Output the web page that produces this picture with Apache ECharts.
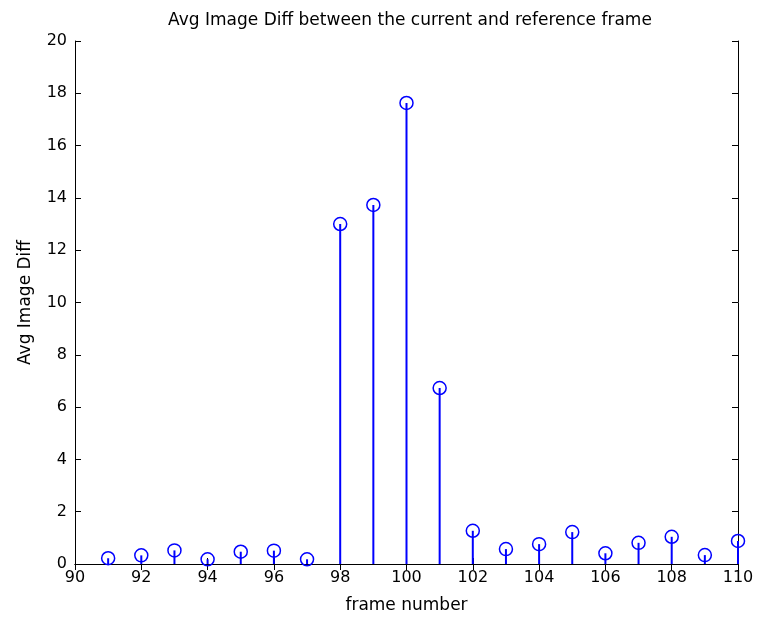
<!DOCTYPE html>
<html>
<head>
<meta charset="utf-8">
<script src="https://cdn.jsdelivr.net/npm/echarts@6/dist/echarts.min.js"></script>
<style>
  html, body { margin: 0; padding: 0; background: #fff; }
  #main { width: 759px; height: 621px; }
</style>
</head>
<body>
<div id="main"></div>
<script>
  // frame numbers and average image difference
  var frames = [91, 92, 93, 94, 95, 96, 97, 98, 99, 100, 101, 102, 103, 104, 105, 106, 107, 108, 109, 110];
  var avgDiff = [0.22, 0.33, 0.52, 0.18, 0.47, 0.51, 0.18, 13.0, 13.73, 17.63, 6.73, 1.27, 0.57, 0.76, 1.22, 0.41, 0.81, 1.04, 0.34, 0.88];

  var points = frames.map(function (f, i) { return [f, avgDiff[i]]; });

  var font = 'DejaVu Sans';
  var boxAxis = {
    axisLine: { show: true, lineStyle: { color: '#000', width: 1 } },
    axisTick: { show: true, inside: true, length: 6, lineStyle: { color: '#000' } },
    splitLine: { show: false }
  };

  var myChart = echarts.init(document.getElementById('main'));
  myChart.setOption({
    animation: false,
    backgroundColor: '#fff',
    title: {
      text: 'Avg Image Diff between the current and reference frame',
      left: 405,
      top: 7,
      textAlign: 'center',
      textStyle: { fontFamily: font, fontSize: 17, fontWeight: 'normal', color: '#000' }
    },
    grid: { left: 75, right: 21, top: 41, bottom: 57, outerBoundsMode: 'none' },
    xAxis: [
      Object.assign({
        type: 'value', min: 90, max: 110, interval: 2, position: 'bottom',
        name: 'frame number', nameLocation: 'middle', nameGap: 33,
        nameTextStyle: { fontFamily: font, fontSize: 17, color: '#000' },
        axisLabel: { fontFamily: font, fontSize: 16, color: '#000', margin: 6 }
      }, boxAxis),
      Object.assign({
        type: 'value', min: 90, max: 110, interval: 2, position: 'top',
        axisLabel: { show: false }
      }, boxAxis)
    ],
    yAxis: [
      Object.assign({
        type: 'value', min: 0, max: 20, interval: 2, position: 'left',
        name: 'Avg Image Diff', nameLocation: 'middle', nameGap: 41,
        nameTextStyle: { fontFamily: font, fontSize: 17, color: '#000' },
        axisLabel: { fontFamily: font, fontSize: 16, color: '#000', margin: 8 }
      }, boxAxis),
      Object.assign({
        type: 'value', min: 0, max: 20, interval: 2, position: 'right',
        axisLabel: { show: false }
      }, boxAxis)
    ],
    series: [
      {
        type: 'bar',
        xAxisIndex: 0,
        yAxisIndex: 0,
        barWidth: 2,
        itemStyle: { color: '#0000ff' },
        data: points
      },
      {
        type: 'scatter',
        xAxisIndex: 0,
        yAxisIndex: 0,
        symbol: 'circle',
        symbolSize: 13,
        itemStyle: { color: 'rgba(0,0,0,0)', borderColor: '#0000ff', borderWidth: 1.5, opacity: 1 },
        data: points
      }
    ]
  });
</script>
</body>
</html>
